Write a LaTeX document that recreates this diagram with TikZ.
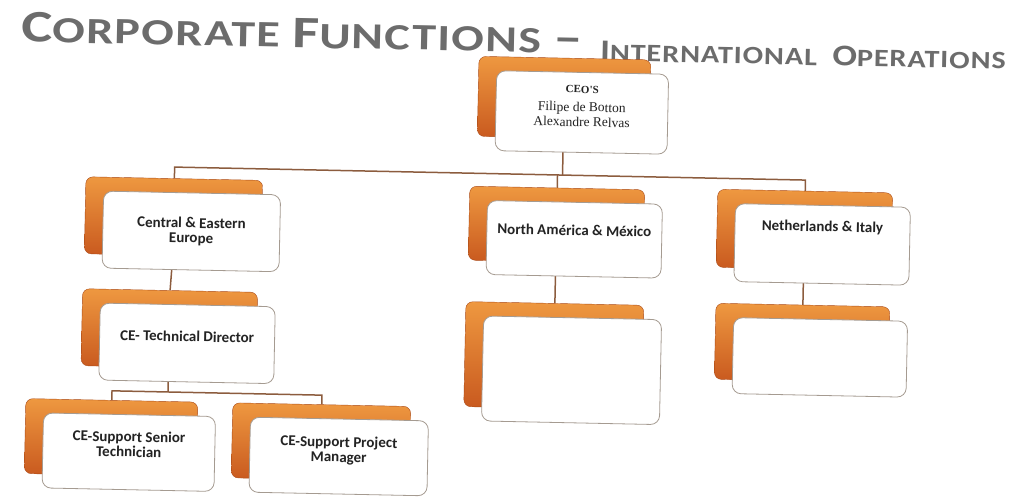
\documentclass[tikz,border=0pt]{standalone}
\usepackage{fontspec}
\usepackage{graphicx}
\setmainfont{Carlito}
\newfontfamily\nameserif{Liberation Serif}
\newfontfamily\headfont[LetterSpace=3]{Carlito}
\usetikzlibrary{calc}
\pgfdeclarelayer{links}
\pgfsetlayers{links,main}

\definecolor{orgtop}{RGB}{238,152,64}
\definecolor{orgbot}{RGB}{200,88,30}
\definecolor{orgedge}{RGB}{170,75,25}
\definecolor{linkc}{RGB}{140,92,62}
\definecolor{titlec}{RGB}{108,108,108}
\definecolor{edgec}{RGB}{165,155,145}
\definecolor{textc}{RGB}{35,35,35}

% caps with a larger first letter
\newcommand\capword[4]{{\fontsize{#1}{#1}\selectfont #3}{\fontsize{#2}{#2}\selectfont #4}}

\tikzset{
  card/.style={draw=edgec, line width=0.8pt, fill=white, rounded corners=9pt,
    inner sep=0pt},
  backcard/.style={draw=orgedge, line width=0.4pt, top color=orgtop,
    bottom color=orgbot, rounded corners=7pt, inner sep=0pt},
  cardtext/.style={font=\fontsize{15}{15}\selectfont\bfseries, text=textc,
    align=center, inner sep=0pt},
  nametext/.style={font=\nameserif\fontsize{13.5}{15}\selectfont, text=textc,
    align=center, inner sep=0pt},
  link/.style={draw=linkc, line width=1.5pt},
  heading/.style={anchor=base west, text=titlec, inner sep=0pt},
}

% orange card behind a white card: name, x, y, width, height
\newcommand\orgcard[5]{%
  \node[backcard, minimum width=#4, minimum height=#5] (#1-b) at (#2-18,#3-14) {};
  \node[card, minimum width=#4, minimum height=#5] (#1) at (#2,#3) {};}

\begin{document}
\begin{tikzpicture}[x=1pt, y=-1pt]
\useasboundingbox (0,0) rectangle (1019,498);

\begin{scope}[rotate around={-1.18:(510,249)}, transform shape]

  % heading
  \node[heading, font=\headfont\bfseries\fontsize{37}{37}\selectfont] (title) at (17,52)
    {\scalebox{1.3}[1]{\capword{45}{37}{C}{ORPORATE} \capword{45}{37}{F}{UNCTIONS} \capword{45}{37}{–}{}}};
  \node[heading, font=\headfont\bfseries\fontsize{25}{25}\selectfont] (subtitle) at (596,59)
    {\scalebox{1.21}[1]{\capword{30}{25}{I}{NTERNATIONAL}\ \ \capword{30}{25}{O}{PERATIONS}}};

  % cards
  \orgcard{ceo}{579}{111}{172}{80}
  \orgcard{cee}{191}{238}{177}{77}
  \orgcard{nam}{574}{238}{175}{74}
  \orgcard{nli}{822}{238}{175}{78}
  \orgcard{ctd}{189}{350}{175}{77}
  \orgcard{nam2}{574}{369}{178}{105}
  \orgcard{nli2}{822}{351}{174}{76}
  \orgcard{sst}{133}{460}{172}{75}
  \orgcard{spm}{343}{460}{178}{75}

  % card texts
  \node[nametext, font=\nameserif\bfseries\fontsize{11}{12}\selectfont] (ceo-h)
    at ([yshift=23pt]ceo.center) {CEO'S};
  \node[nametext] (ceo-t) at ([yshift=-2pt]ceo.center)
    {Filipe de Botton\\Alexandre Relvas};
  \node[cardtext] (cee-t) at (cee.center) {Central \& Eastern\\Europe};
  \node[cardtext] (nam-t) at ([yshift=9pt]nam.center) {North América \& México};
  \node[cardtext] (nli-t) at ([yshift=17pt]nli.center) {Netherlands \& Italy};
  \node[cardtext] (ctd-t) at ([yshift=7pt]ctd.center) {CE- Technical Director};
  \node[cardtext] (sst-t) at ([yshift=8pt]sst.center) {CE-Support Senior\\Technician};
  \node[cardtext] (spm-t) at ([yshift=6pt]spm.center) {CE-Support Project\\Manager};

  % junction points
  \coordinate (bus-l) at (173,174);
  \coordinate (bus-c) at (561,174);
  \coordinate (bus-m) at (556,174);
  \coordinate (bus-r) at (804,174);
  \coordinate (sub-c) at (171,399);
  \coordinate (sub-l) at (115,399);
  \coordinate (sub-r) at (325,399);

  \begin{pgfonlayer}{links}
    \draw[link] (ceo-b.south) -- (bus-c);
    \draw[link] (cee-b.north) -- (bus-l) -- (bus-r) -- (nli-b.north);
    \draw[link] (nam-b.north) -- (bus-m);
    \draw[link] (cee-b.south) -- (ctd-b.north);
    \draw[link] (ctd-b.south) -- (sub-c);
    \draw[link] (sst-b.north) -- (sub-l) -- (sub-r) -- (spm-b.north);
    \draw[link] (nam-b.south) -- (nam2-b.north);
    \draw[link] (nli-b.south) -- (nli2-b.north);
  \end{pgfonlayer}
\end{scope}
\end{tikzpicture}
\end{document}
